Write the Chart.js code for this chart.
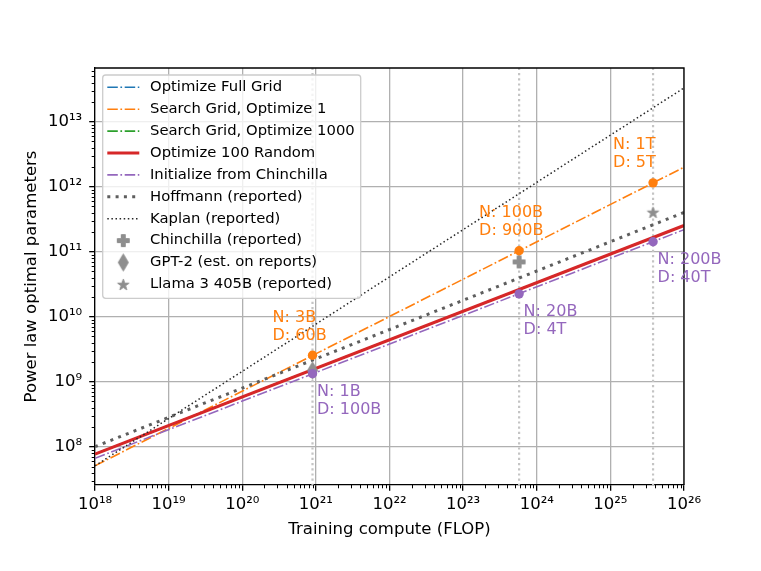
<!DOCTYPE html>
<html><head><meta charset="utf-8">
<script src="https://cdn.jsdelivr.net/npm/chart.js@4.4.1/dist/chart.umd.min.js"></script>
<style>html,body{margin:0;padding:0;background:#fff;}#wrap{width:761px;height:571px;position:relative;}</style>
</head><body><div id="wrap"><canvas id="c" width="761" height="571"></canvas></div>
<script>
// ---- data ----
const computeEnds = [1e18, 1e26];
const fullGridN = [7.76e7, 2.54e11];
const searchOpt1N = [5.13e7, 2.0e12];
const searchOpt1000N = [7.76e7, 2.54e11];
const random100N = [7.76e7, 2.54e11];
const initChinchillaN = [6.7e7, 2.19e11];
const hoffmannN = [1.01e8, 4.03e11];
const kaplanN = [5.13e7, 3.31e13];
const modelComputes = [9e20, 5.76e23, 3.8e25];
const searchOpt1PointN = [2.57e9, 1.04e11, 1.15e12];
const searchOpt1PointLabels = [["N: 3B", "D: 60B"], ["N: 100B", "D: 900B"], ["N: 1T", "D: 5T"]];
const initPointN = [1.34e9, 2.26e10, 1.43e11];
const initPointLabels = [["N: 1B", "D: 100B"], ["N: 20B", "D: 4T"], ["N: 200B", "D: 40T"]];
const chinchillaCompute = [5.76e23], chinchillaN = [7e10];
const gpt2Compute = [9e20], gpt2N = [1.5e9];
const llamaCompute = [3.8e25], llamaN = [4.05e11];
const xTickValues = [1e18, 1e19, 1e20, 1e21, 1e22, 1e23, 1e24, 1e25, 1e26];
const yTickValues = [1e8, 1e9, 1e10, 1e11, 1e12, 1e13];
const xRange = [1e18, 1e26];
const yRange = [2.6e7, 6.7e13];

// ---- styles ----
const FONT = 'DejaVu Sans';
const DASHDOT = [10.5, 2.6, 1.7, 2.6];
const C_BLUE = '#1f77b4', C_ORANGE = '#ff7f0e', C_GREEN = '#2ca02c', C_RED = '#d62728', C_PURPLE = '#9467bd';
const C_HOFF = '#5e5e5e', C_KAP = '#262626', C_MARK = '#8e8e8e', C_VLINE = '#c4c4c4';

function makeCanvas(w, h, draw) {
  const c = document.createElement('canvas'); c.width = w; c.height = h;
  const g = c.getContext('2d'); g.fillStyle = C_MARK; g.strokeStyle = C_MARK; g.lineWidth = 1; g.lineJoin = 'miter';
  draw(g, w / 2, h / 2); return c;
}
const plusImg = makeCanvas(15, 15, (g, cx, cy) => {
  const s = 6, t = 2;
  g.beginPath();
  g.moveTo(cx - t, cy - s); g.lineTo(cx + t, cy - s); g.lineTo(cx + t, cy - t); g.lineTo(cx + s, cy - t);
  g.lineTo(cx + s, cy + t); g.lineTo(cx + t, cy + t); g.lineTo(cx + t, cy + s); g.lineTo(cx - t, cy + s);
  g.lineTo(cx - t, cy + t); g.lineTo(cx - s, cy + t); g.lineTo(cx - s, cy - t); g.lineTo(cx - t, cy - t);
  g.closePath(); g.fill(); g.stroke();
});
const diamondImg = makeCanvas(13, 20, (g, cx, cy) => {
  g.beginPath(); g.moveTo(cx, cy - 8.5); g.lineTo(cx + 5, cy); g.lineTo(cx, cy + 8.5); g.lineTo(cx - 5, cy); g.closePath();
  g.fill(); g.stroke();
});
const starImg = makeCanvas(15, 15, (g, cx, cy) => {
  const R = 6, r = R * 0.382; g.beginPath();
  for (let i = 0; i < 10; i++) {
    const a = -Math.PI / 2 + i * Math.PI / 5, rr = i % 2 ? r : R;
    const px = cx + rr * Math.cos(a), py = cy + 0.6 + rr * Math.sin(a);
    i ? g.lineTo(px, py) : g.moveTo(px, py);
  }
  g.closePath(); g.fill(); g.stroke();
});

function lineSet(ys, color, width, dash, z) {
  return { data: computeEnds.map((x, i) => ({ x, y: ys[i] })), showLine: true, borderColor: color, borderWidth: width,
    borderDash: dash, borderCapStyle: 'butt', pointRadius: 0, fill: false, order: 100 - z };
}
function pointSet(xs, ys, style, color, radius, z) {
  return { data: xs.map((x, i) => ({ x, y: ys[i] })), showLine: false, pointStyle: style, pointRadius: radius,
    backgroundColor: color, borderColor: color, borderWidth: 0, order: 100 - z };
}
const datasets = [];
modelComputes.forEach(c => datasets.push({ data: [{ x: c, y: 1e7 }, { x: c, y: 1e14 }], showLine: true,
  borderColor: C_VLINE, borderWidth: 2.2, borderDash: [2.2, 3], borderCapStyle: 'butt', pointRadius: 0, order: 99 }));
datasets.push(lineSet(fullGridN, C_BLUE, 1.6, DASHDOT, 1));
datasets.push(lineSet(searchOpt1N, C_ORANGE, 1.6, DASHDOT, 2));
datasets.push(lineSet(searchOpt1000N, C_GREEN, 1.6, DASHDOT, 3));
datasets.push(lineSet(random100N, C_RED, 3.2, [], 4));
datasets.push(lineSet(initChinchillaN, C_PURPLE, 1.6, DASHDOT, 5));
datasets.push(lineSet(hoffmannN, C_HOFF, 3.0, [3, 5.3], 6));
datasets.push(lineSet(kaplanN, C_KAP, 1.5, [1.5, 2.6], 7));
datasets.push(pointSet(chinchillaCompute, chinchillaN, plusImg, C_MARK, 6, 8));
datasets.push(pointSet(gpt2Compute, gpt2N, diamondImg, C_MARK, 6, 9));
datasets.push(pointSet(llamaCompute, llamaN, starImg, C_MARK, 6, 10));
datasets.push(pointSet(modelComputes, searchOpt1PointN, 'circle', C_ORANGE, 4.7, 11));
datasets.push(pointSet(modelComputes, initPointN, 'circle', C_PURPLE, 4.7, 12));

const SUP = { '0': '⁰', '1': '¹', '2': '²', '3': '³', '4': '⁴', '5': '⁵', '6': '⁶', '7': '⁷', '8': '⁸', '9': '⁹', '-': '⁻' };
function powLabel(v) { const e = Math.round(Math.log10(v)); return '10' + String(e).split('').map(c => SUP[c]).join(''); }

const legendItems = [
  { label: 'Optimize Full Grid', color: C_BLUE, width: 1.6, dash: DASHDOT },
  { label: 'Search Grid, Optimize 1', color: C_ORANGE, width: 1.6, dash: DASHDOT },
  { label: 'Search Grid, Optimize 1000', color: C_GREEN, width: 1.6, dash: DASHDOT },
  { label: 'Optimize 100 Random', color: C_RED, width: 3.2, dash: [] },
  { label: 'Initialize from Chinchilla', color: C_PURPLE, width: 1.6, dash: DASHDOT },
  { label: 'Hoffmann (reported)', color: C_HOFF, width: 3.0, dash: [3, 5.3] },
  { label: 'Kaplan (reported)', color: C_KAP, width: 1.5, dash: [1.5, 2.6] },
  { label: 'Chinchilla (reported)', img: plusImg },
  { label: 'GPT-2 (est. on reports)', img: diamondImg },
  { label: 'Llama 3 405B (reported)', img: starImg }
];

const extras = {
  id: 'extras',
  afterDatasetsDraw(chart) {
    const { ctx, chartArea: a, scales: { x, y } } = chart;
    ctx.save();
    // top & right spines
    ctx.strokeStyle = '#000'; ctx.lineWidth = 1.3; ctx.setLineDash([]);
    ctx.beginPath(); ctx.moveTo(a.left, a.top); ctx.lineTo(a.right, a.top); ctx.lineTo(a.right, a.bottom); ctx.stroke();
    // annotations
    ctx.font = '16px "' + FONT + '"'; ctx.textBaseline = 'middle'; ctx.textAlign = 'left';
    modelComputes.forEach((c, i) => {
      const px = x.getPixelForValue(c);
      const po = y.getPixelForValue(searchOpt1PointN[i]);
      ctx.fillStyle = C_ORANGE;
      ctx.fillText(searchOpt1PointLabels[i][0], px - 40, po - 37.7);
      ctx.fillText(searchOpt1PointLabels[i][1], px - 40, po - 19.8);
      const pp = y.getPixelForValue(initPointN[i]);
      ctx.fillStyle = C_PURPLE;
      ctx.fillText(initPointLabels[i][0], px + 4.5, pp + 18);
      ctx.fillText(initPointLabels[i][1], px + 4.5, pp + 35.8);
    });
    ctx.restore();
  },
  afterDraw(chart) {
    const { ctx, chartArea: a, scales: { x, y } } = chart;
    ctx.save();
    // minor ticks
    ctx.strokeStyle = '#000'; ctx.lineWidth = 1; ctx.beginPath();
    for (let e = 17; e <= 26; e++) for (let k = 2; k <= 9; k++) {
      const v = k * Math.pow(10, e); if (v < x.min || v > x.max) continue;
      const p = Math.round(x.getPixelForValue(v)) + 0.5; ctx.moveTo(p, a.bottom); ctx.lineTo(p, a.bottom + 3.3);
    }
    for (let e = 6; e <= 14; e++) for (let k = 2; k <= 9; k++) {
      const v = k * Math.pow(10, e); if (v < y.min || v > y.max) continue;
      const p = Math.round(y.getPixelForValue(v)) + 0.5; ctx.moveTo(a.left, p); ctx.lineTo(a.left - 3.3, p);
    }
    ctx.stroke();
    // legend
    const L = 102.7, T = 75, W = 258, H = 223.3, R = 3;
    ctx.beginPath();
    ctx.moveTo(L + R, T); ctx.lineTo(L + W - R, T); ctx.arcTo(L + W, T, L + W, T + R, R);
    ctx.lineTo(L + W, T + H - R); ctx.arcTo(L + W, T + H, L + W - R, T + H, R);
    ctx.lineTo(L + R, T + H); ctx.arcTo(L, T + H, L, T + H - R, R);
    ctx.lineTo(L, T + R); ctx.arcTo(L, T, L + R, T, R); ctx.closePath();
    ctx.fillStyle = 'rgba(255,255,255,0.8)'; ctx.fill();
    ctx.strokeStyle = '#cccccc'; ctx.lineWidth = 1.3; ctx.stroke();
    ctx.font = '14.8px "' + FONT + '"'; ctx.textBaseline = 'middle'; ctx.textAlign = 'left';
    legendItems.forEach((it, i) => {
      const yy = 87.3 + i * 21.9;
      if (it.img) {
        ctx.drawImage(it.img, 123.3 - it.img.width / 2, yy - it.img.height / 2);
      } else {
        ctx.strokeStyle = it.color; ctx.lineWidth = it.width; ctx.setLineDash(it.dash); ctx.lineCap = 'butt';
        ctx.beginPath(); ctx.moveTo(107.3, yy); ctx.lineTo(139.3, yy); ctx.stroke(); ctx.setLineDash([]);
      }
      ctx.fillStyle = '#000'; ctx.fillText(it.label, 150, yy);
    });
    ctx.restore();
  }
};

Chart.defaults.font.family = FONT;
Chart.defaults.font.size = 16.5;
Chart.defaults.color = '#000';

new Chart(document.getElementById('c'), {
  type: 'scatter',
  data: { datasets },
  plugins: [extras],
  options: {
    responsive: false, animation: false, events: [],
    layout: { padding: { left: 0, right: 77, top: 68, bottom: 0 } },
    plugins: { legend: { display: false }, tooltip: { enabled: false } },
    scales: {
      x: {
        type: 'logarithmic', min: xRange[0], max: xRange[1],
        afterBuildTicks: s => { s.ticks = xTickValues.map(v => ({ value: v })); },
        afterFit: s => { s.height = 86; },
        ticks: { callback: v => powLabel(v), autoSkip: false, maxRotation: 0, padding: 4, font: { size: 16.5 } },
        grid: { color: '#b0b0b0', lineWidth: 1.3, tickColor: '#000', tickLength: 5.8, tickWidth: 1.3 },
        border: { display: true, color: '#000', width: 1.3 },
        title: { display: true, text: 'Training compute (FLOP)', font: { size: 16.5 }, padding: { top: 0, bottom: 31.4 } }
      },
      y: {
        type: 'logarithmic', min: yRange[0], max: yRange[1],
        afterBuildTicks: s => { s.ticks = yTickValues.map(v => ({ value: v })); },
        afterFit: s => { s.width = 95; },
        ticks: { callback: v => powLabel(v), autoSkip: false, padding: 7, font: { size: 16.5 } },
        grid: { color: '#b0b0b0', lineWidth: 1.3, tickColor: '#000', tickLength: 5.8, tickWidth: 1.3 },
        border: { display: true, color: '#000', width: 1.3 },
        title: { display: true, text: 'Power law optimal parameters', font: { size: 16.5 }, padding: { top: 21.5, bottom: 0 } }
      }
    }
  }
});
</script></body></html>
